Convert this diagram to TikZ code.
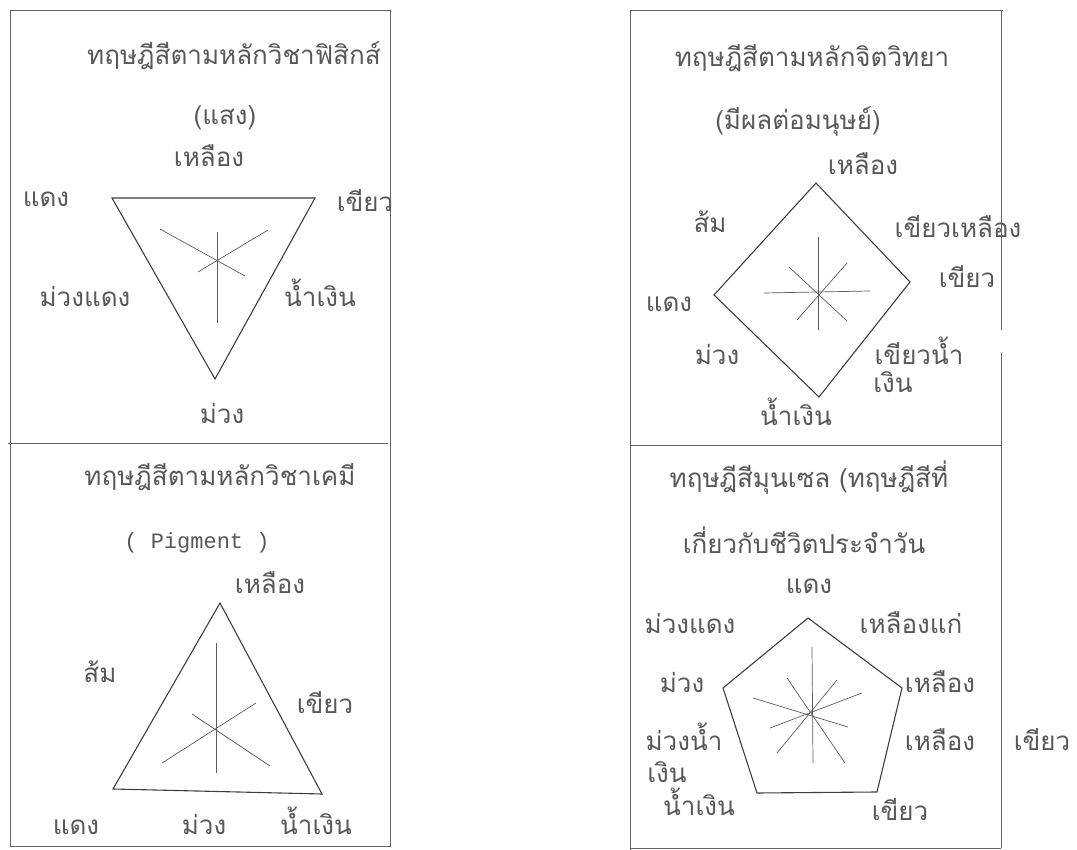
\documentclass[tikz,border=0pt]{standalone}
\usepackage{fontspec}
\setmainfont{Liberation Serif}
\setmonofont{Liberation Mono}
\newfontfamily\thaifont[Script=Thai]{Loma}
\usetikzlibrary{positioning}
\definecolor{ink}{RGB}{62,62,62}
\definecolor{pencil}{RGB}{88,88,88}
\tikzset{
  every picture/.style={color=ink, line width=0.9pt},
  frame/.style={draw=ink!80, line width=0.8pt},
  shapeline/.style={draw=ink, line width=1.1pt, line join=miter},
  spoke/.style={draw=ink!85, line width=0.7pt},
  title/.style={anchor=base, font=\thaifont\fontsize{26}{30}\selectfont, text=pencil, inner sep=0pt},
  colour/.style={anchor=base, font=\thaifont\fontsize{26}{30}\selectfont, text=pencil, inner sep=0pt},
  typed/.style={anchor=base, font=\ttfamily\fontsize{22}{26}\selectfont, text=pencil, inner sep=0pt},
}
\begin{document}
\begin{tikzpicture}[x=1pt, y=-1pt]
  \useasboundingbox (0,0) rectangle (1077,850);
  % frames
  \draw[frame] (10,846) -- (10,10) -- (390,10) -- (390,846) -- cycle;
  \draw[frame] (8,443) -- (388,443);
  \draw[frame] (630,850) -- (630,10) -- (1003,10);
  \draw[frame] (1001,10) -- (1001,330);
  \draw[frame] (1001,353) -- (1001,848);
  \draw[frame] (630,445) -- (1001,445);
  \draw[frame] (630,848) -- (1001,848);

  % physics: light
  \node[title] (phy) at (234,65) {ทฤษฎีสีตามหลักวิชาฟิสิกส์};
  \node[title] (physub) at (225,125) {(แสง)};
  \coordinate (p-r) at (112,198);
  \coordinate (p-g) at (315,198);
  \coordinate (p-b) at (215,379);
  \draw[shapeline] (p-r) -- (p-g) -- (p-b) -- cycle;
  \draw[spoke] (217,232) -- (217,323);
  \draw[spoke] (160,229) -- (245,276);
  \draw[spoke] (268,230) -- (198,272);
  \node[colour] (p1) at (209,167) {เหลือง};
  \node[colour] (p2) at (46,207) {แดง};
  \node[colour] (p3) at (365,212) {เขียว};
  \node[colour] (p4) at (85,307) {ม่วงแดง};
  \node[colour] (p5) at (320,307) {น้ำเงิน};
  \node[colour] (p6) at (222,424) {ม่วง};

  % psychology
  \node[title] (psy) at (812,67) {ทฤษฎีสีตามหลักจิตวิทยา};
  \node[title] (psysub) at (798,130) {(มีผลต่อมนุษย์)};
  \coordinate (d-y) at (816,183);
  \coordinate (d-g) at (910,282);
  \coordinate (d-b) at (819,397);
  \coordinate (d-r) at (714,295);
  \draw[shapeline] (d-y) -- (d-g) -- (d-b) -- (d-r) -- cycle;
  \draw[spoke] (818,237) -- (818,330);
  \draw[spoke] (764,293) -- (870,291);
  \draw[spoke] (789,267) -- (847,321);
  \draw[spoke] (847,263) -- (797,320);
  \node[colour] (s1) at (863,175) {เหลือง};
  \node[colour] (s2) at (710,233) {ส้ม};
  \node[colour] (s3) at (958,238) {เขียวเหลือง};
  \node[colour] (s4) at (967,288) {เขียว};
  \node[colour] (s5) at (669,312) {แดง};
  \node[colour] (s6) at (717,365) {ม่วง};
  \node[colour] (s7) at (919,365) {เขียวน้ำ};
  \node[colour] (s8) at (893,392) {เงิน};
  \node[colour] (s9) at (796,425) {น้ำเงิน};

  % chemistry: pigment
  \node[title] (chem) at (220,485) {ทฤษฎีสีตามหลักวิชาเคมี};
  \node[typed] (chemsub) at (197,548) {( Pigment )};
  \coordinate (c-y) at (220,603);
  \coordinate (c-r) at (113,789);
  \coordinate (c-b) at (322,794);
  \draw[shapeline] (c-y) -- (c-b) -- (c-r) -- cycle;
  \draw[spoke] (216,643) -- (216,773);
  \draw[spoke] (162,763) -- (256,703);
  \draw[spoke] (192,714) -- (270,766);
  \node[colour] (c1) at (270,593) {เหลือง};
  \node[colour] (c2) at (100,682) {ส้ม};
  \node[colour] (c3) at (325,713) {เขียว};
  \node[colour] (c4) at (76,834) {แดง};
  \node[colour] (c5) at (204,834) {ม่วง};
  \node[colour] (c6) at (316,834) {น้ำเงิน};

  % munsell
  \node[title] (mun) at (809,487) {ทฤษฎีสีมุนเซล (ทฤษฎีสีที่};
  \node[title] (mun2) at (804,553) {เกี่ยวกับชีวิตประจำวัน};
  \coordinate (m-1) at (808,618);
  \coordinate (m-2) at (902,688);
  \coordinate (m-3) at (877,792);
  \coordinate (m-4) at (757,793);
  \coordinate (m-5) at (723,688);
  \draw[shapeline] (m-1) -- (m-2) -- (m-3) -- (m-4) -- (m-5) -- cycle;
  \draw[spoke] (812,647) -- (813,763);
  \draw[spoke] (753,698) -- (848,727);
  \draw[spoke] (862,693) -- (770,728);
  \draw[spoke] (787,678) -- (845,763);
  \draw[spoke] (837,680) -- (777,753);
  \node[colour] (m1) at (809,593) {แดง};
  \node[colour] (m2) at (690,633) {ม่วงแดง};
  \node[colour] (m3) at (911,633) {เหลืองแก่};
  \node[colour] (m4) at (682,692) {ม่วง};
  \node[colour] (m5) at (940,692) {เหลือง};
  \node[colour] (m6) at (684,750) {ม่วงน้ำ};
  \node[colour] (m7) at (940,750) {เหลือง};
  \node[colour] (m8) at (1042,750) {เขียว};
  \node[colour] (m9) at (667,782) {เงิน};
  \node[colour] (m10) at (699,815) {น้ำเงิน};
  \node[colour] (m11) at (900,820) {เขียว};
\end{tikzpicture}
\end{document}
